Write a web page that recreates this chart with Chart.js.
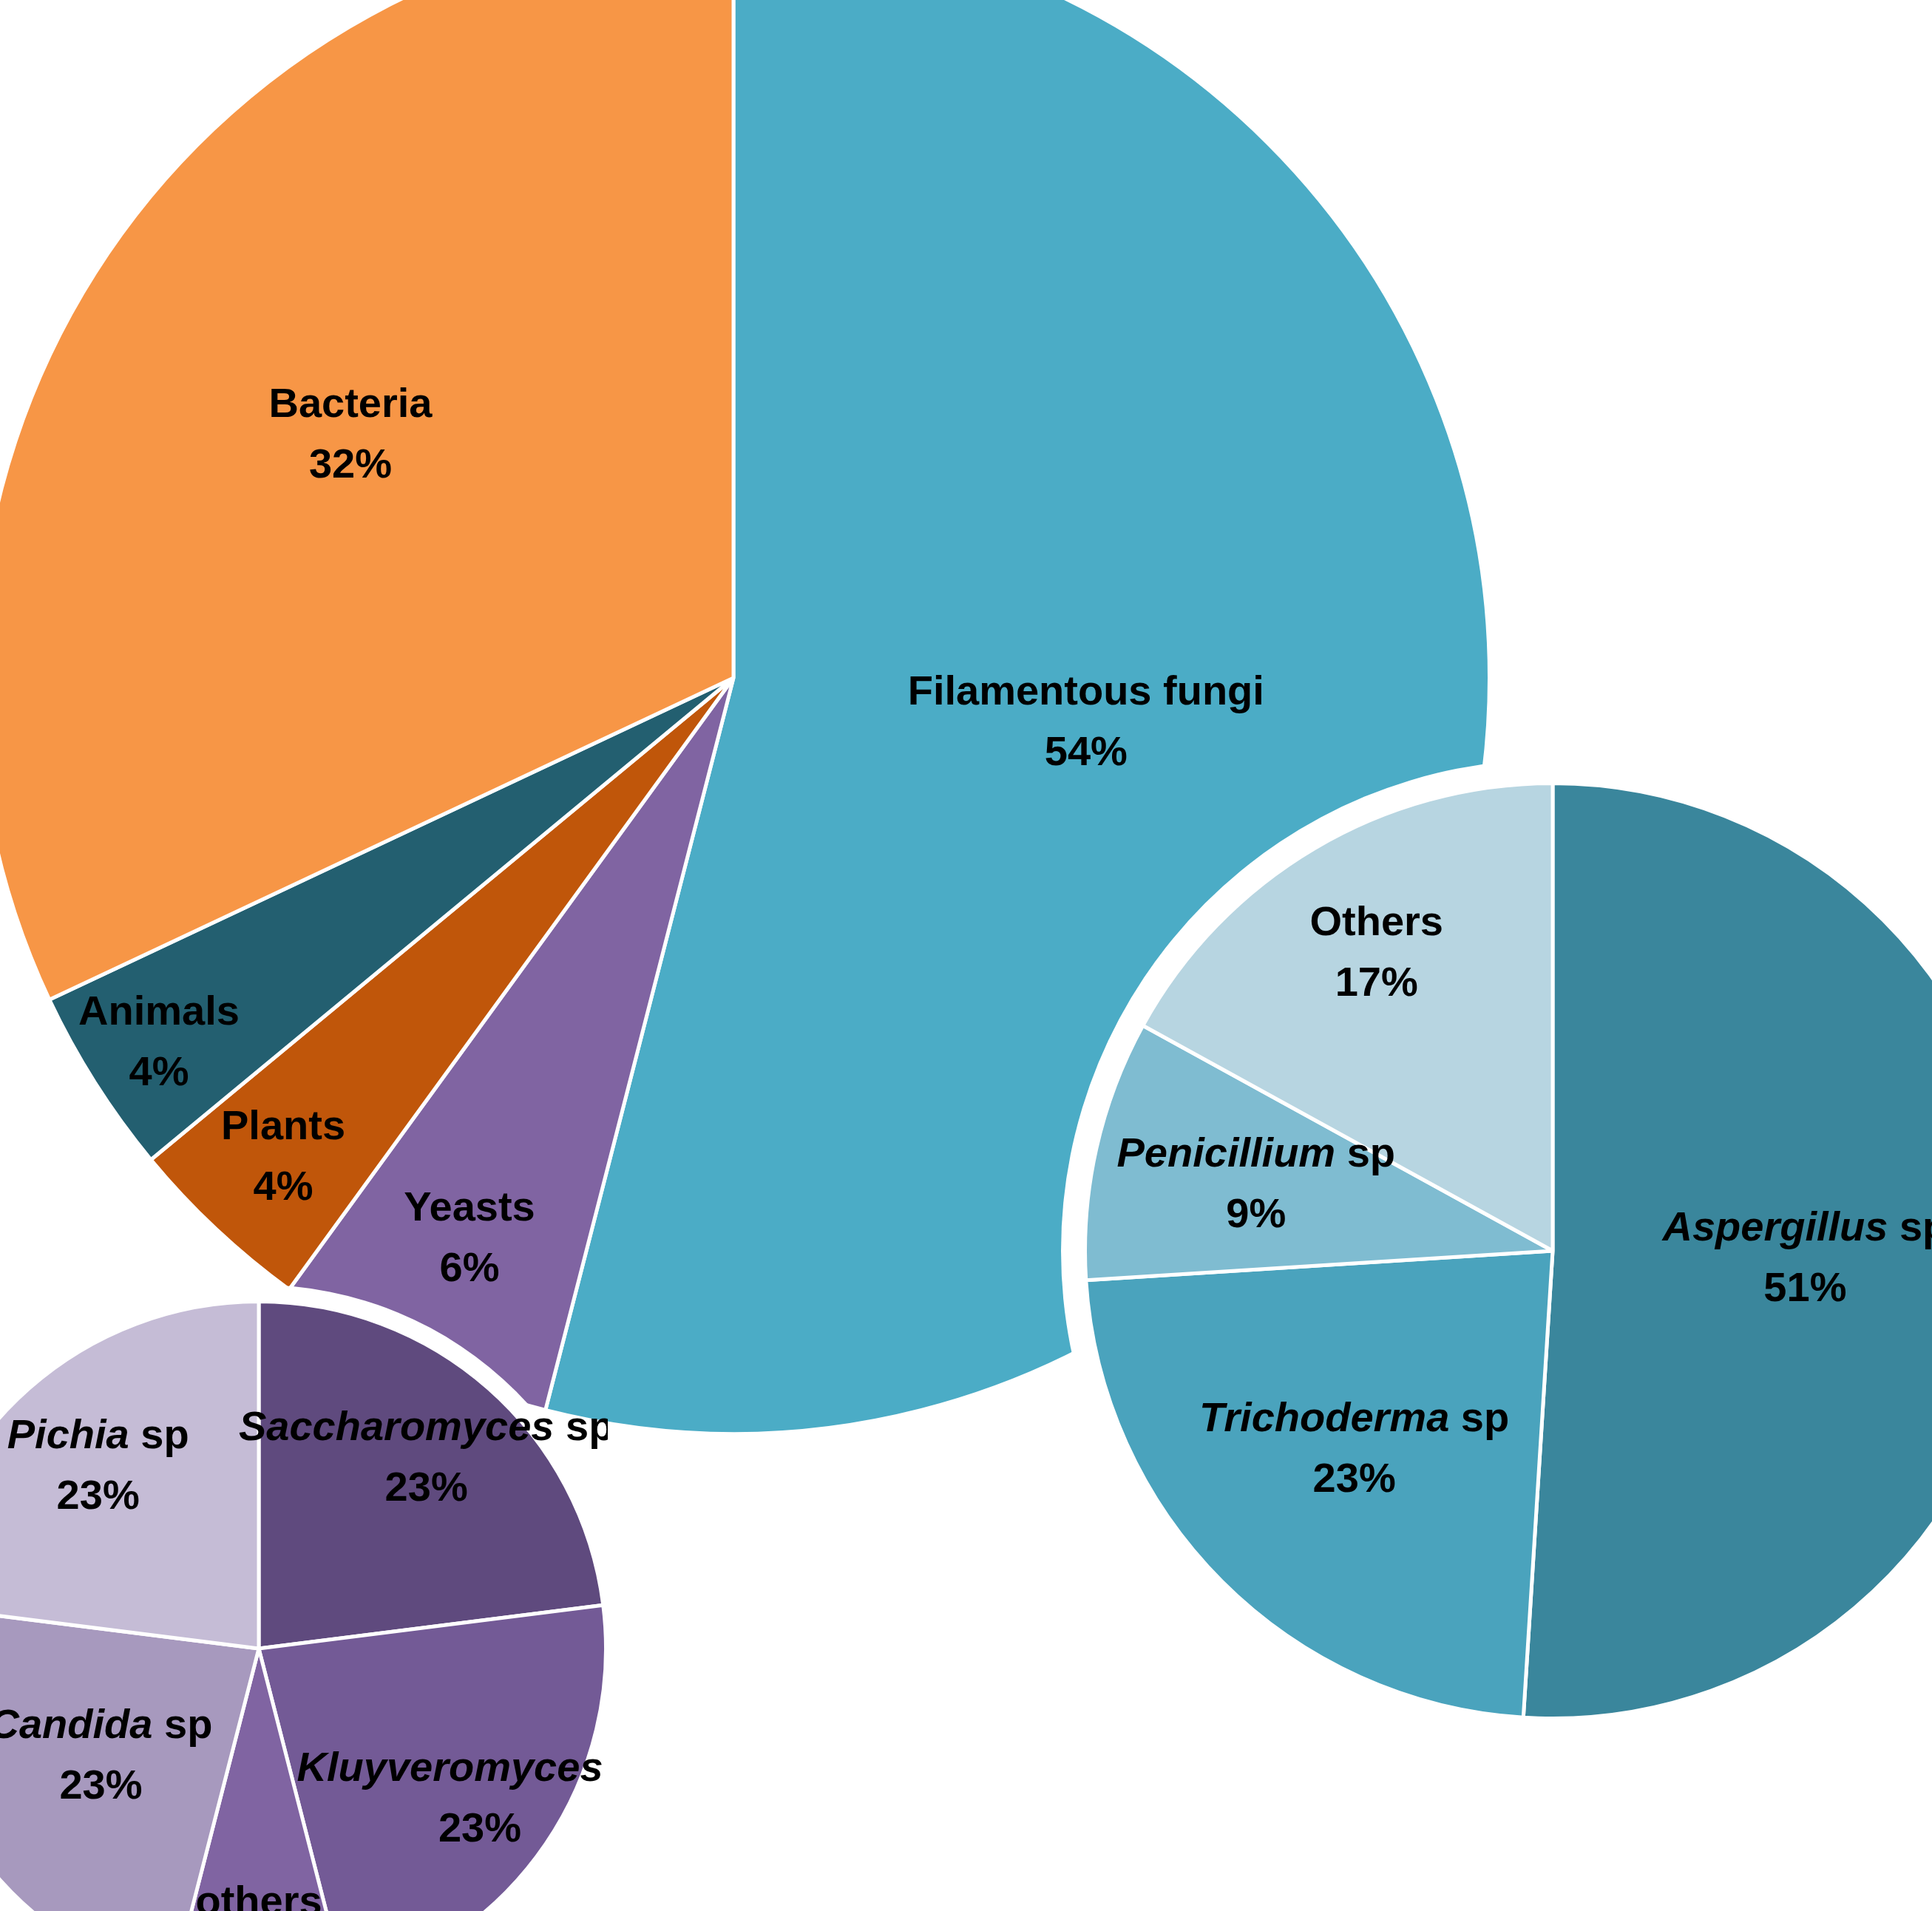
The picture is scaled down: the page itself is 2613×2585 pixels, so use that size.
<!DOCTYPE html>
<html lang="en">
<head>
<meta charset="UTF-8">
<title>Sources</title>
<script src="https://cdn.jsdelivr.net/npm/chart.js"></script>
<style>
  body { margin:0; width:2613px; height:2585px; overflow:hidden; background:#fff; position:relative; }
  .pie { position:absolute; }
  .ring { position:absolute; background:#fff; border-radius:50%; }
</style>
</head>
<body>
<div class="pie" style="left:-33px;top:-108px;width:2050px;height:2050px"><canvas id="main"></canvas></div>
<div class="ring" style="left:1435px;top:1027px;width:1330px;height:1330px"></div>
<div class="pie" style="left:1465px;top:1057px;width:1270px;height:1270px"><canvas id="fungi"></canvas></div>
<div class="ring" style="left:-142px;top:1738px;width:984px;height:984px"></div>
<div class="pie" style="left:-122px;top:1758px;width:944px;height:944px"><canvas id="yeast"></canvas></div>
<script>
// main pie
const mainLabels = ['Filamentous fungi', 'Yeasts', 'Plants', 'Animals', 'Bacteria'];
const mainValues = [54, 6, 4, 4, 32];
const mainColors = ['#4bacc6', '#8064a2', '#c0560a', '#235f70', '#f79646'];
const mainLabelDist = [0.47, 0.82, 0.87, 0.9, 0.6];

// filamentous fungi breakdown
const fungiLabels = ['Aspergillus', 'Trichoderma', 'Penicillium', 'Others'];
const fungiValues = [51, 23, 9, 17];
const fungiColors = ['#3a869c', '#4aa3bd', '#7fbcd1', '#b7d5e1'];
const fungiItalic = [true, true, true, false];
const fungiLabelDist = [0.54, 0.6, 0.65, 0.74];

// yeasts breakdown
const yeastLabels = ['Saccharomyces', 'Kluyveromyces', 'others', 'Candida', 'Pichia'];
const yeastValues = [23, 23, 8, 23, 23];
const yeastColors = ['#5f4a7e', '#735a96', '#8064a2', '#a799be', '#c5bcd6'];
const yeastItalic = [true, true, false, true, true];
const yeastLabelDist = [0.73, 0.77, 0.82, 0.55, 0.7];

const FONT = '"Liberation Sans", Arial, sans-serif';

function labelPlugin(labels, italic, dist) {
  return {
    id: 'sliceLabels',
    afterDatasetsDraw(chart) {
      const ctx = chart.ctx;
      const meta = chart.getDatasetMeta(0);
      const vals = chart.data.datasets[0].data;
      ctx.save();
      ctx.fillStyle = '#000';
      ctx.textBaseline = 'middle';
      meta.data.forEach((arc, i) => {
        const a = (arc.startAngle + arc.endAngle) / 2;
        const r = arc.outerRadius * dist[i];
        const x = arc.x + Math.cos(a) * r;
        const y = arc.y + Math.sin(a) * r;
        const name = labels[i];
        const sp = italic && italic[i] ? ' sp' : '';
        ctx.font = (italic && italic[i] ? 'italic ' : '') + 'bold 56px ' + FONT;
        const w1 = ctx.measureText(name).width;
        ctx.font = 'bold 56px ' + FONT;
        const w2 = ctx.measureText(sp).width;
        let sx = x - (w1 + w2) / 2;
        ctx.textAlign = 'left';
        ctx.font = (italic && italic[i] ? 'italic ' : '') + 'bold 56px ' + FONT;
        ctx.fillText(name, sx, y - 40);
        ctx.font = 'bold 56px ' + FONT;
        ctx.fillText(sp, sx + w1, y - 40);
        ctx.textAlign = 'center';
        ctx.fillText(vals[i] + '%', x, y + 42);
      });
      ctx.restore();
    }
  };
}

function makePie(id, labels, values, colors, italic, dist) {
  new Chart(document.getElementById(id), {
    type: 'pie',
    data: { labels: labels, datasets: [{ data: values, backgroundColor: colors, borderColor: '#fff', borderWidth: 5 }] },
    options: {
      responsive: true, maintainAspectRatio: false, animation: false,
      layout: { padding: 0 },
      plugins: { legend: { display: false }, tooltip: { enabled: false } }
    },
    plugins: [labelPlugin(labels, italic, dist)]
  });
}

makePie('main', mainLabels, mainValues, mainColors, null, mainLabelDist);
makePie('fungi', fungiLabels, fungiValues, fungiColors, fungiItalic, fungiLabelDist);
makePie('yeast', yeastLabels, yeastValues, yeastColors, yeastItalic, yeastLabelDist);
</script>
</body>
</html>
